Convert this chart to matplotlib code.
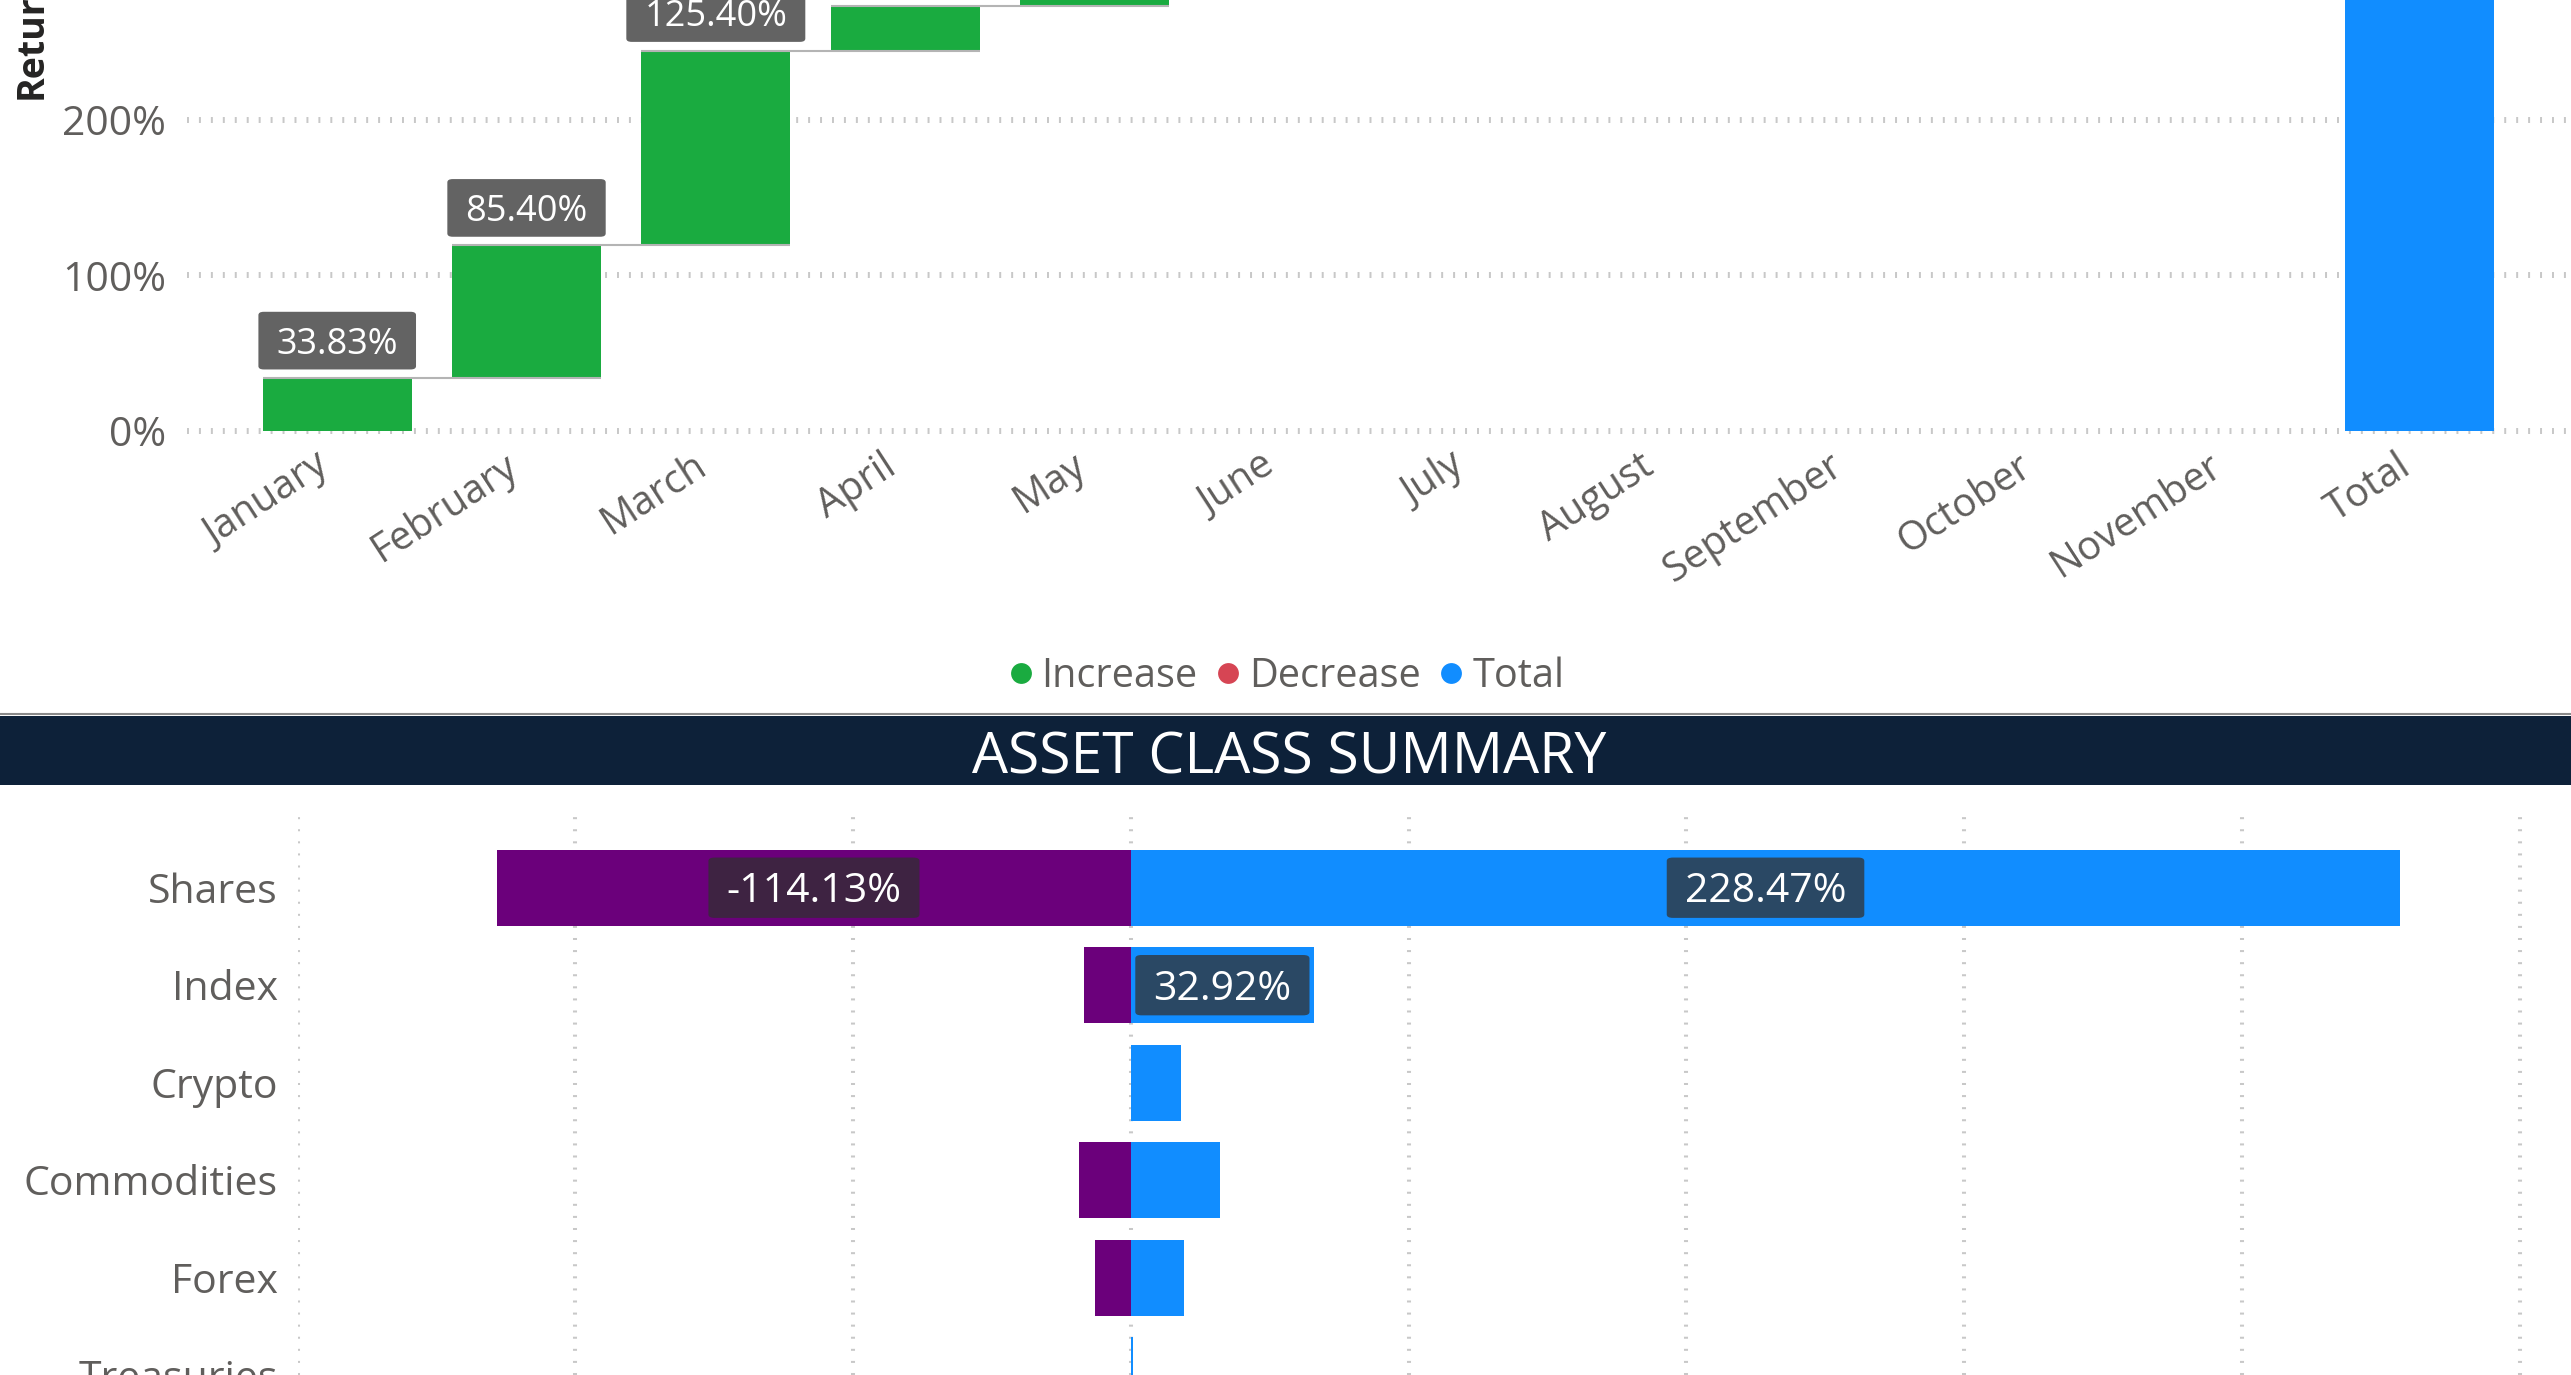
"""
Waterfall de retornos mensuales + resumen por clase de activo
(captura de un tablero: la parte superior y la inferior están recortadas)
"""
import matplotlib
matplotlib.use("Agg")
import matplotlib.pyplot as plt
from matplotlib.lines import Line2D
from matplotlib.patches import Rectangle

plt.rcParams['font.family'] = ['Open Sans', 'DejaVu Sans']

# ── Datos ──
MESES = ['January', 'February', 'March', 'April', 'May', 'June', 'July',
         'August', 'September', 'October', 'November', 'Total']
RETORNO_MES = [33.83, 85.40, 125.40, 28.90, 9.00,
               None, None, None, None, None, None]

CLASES = ['Shares', 'Index', 'Crypto', 'Commodities', 'Forex', 'Treasuries']
NEGATIVO = [-114.13, -8.5, 0.0, -9.4, -6.4, 0.0]
POSITIVO = [228.47, 32.92, 9.0, 16.0, 9.5, 0.3]

# ── Estilo ──
W, H, DPI = 2571, 1375, 100
VERDE, ROJO, AZUL, MORADO = '#1AAB40', '#D64554', '#118DFF', '#6B007B'
NAVY = '#0D2139'
GRIS_TXT = '#605E5C'
GRIS_GRID = '#C8C8C8'


def rect(l, t, r, b):
    """Rectángulo en píxeles (origen arriba-izquierda) → fracciones de figura."""
    return [l / W, 1 - b / H, (r - l) / W, (b - t) / H]


def etiqueta(ax, x, y, texto, fs, fc, pad, aspecto, dy=0.0):
    """Caja redondeada centrada en (x, y)+dy y texto centrado por altura de mayúscula."""
    caja = dict(boxstyle=f'round,pad={pad},rounding_size=0.15',
                fc=fc, ec='none', mutation_aspect=aspecto)
    ax.annotate(texto, (x, y), xytext=(0, dy), textcoords='offset points',
                ha='center', va='center', fontsize=fs, color='none',
                bbox=caja, zorder=4)
    ax.annotate(texto, (x, y), xytext=(0, dy - 0.357 * fs),
                textcoords='offset points', ha='center', va='baseline',
                fontsize=fs, color='white', zorder=5)


fig = plt.figure(figsize=(W / DPI, H / DPI), dpi=DPI)
fig.patch.set_facecolor('white')

# ════════════════ Waterfall superior ════════════════
ax = fig.add_axes(rect(186.6, 0, W, 460))
px_por_pct = 1.554
ax.set_xlim(-0.7956, 11.8)
ax.set_ylim(-(460 - 430.7) / px_por_pct, 430.7 / px_por_pct)

ancho = 0.788
acum = 0.0
tops = []
for i, v in enumerate(RETORNO_MES):
    if v is None:
        continue
    ax.bar(i, v, bottom=acum, width=ancho, color=VERDE, zorder=2)
    acum += v
    tops.append((i, acum, v))
ax.bar(len(MESES) - 1, acum, width=ancho, color=AZUL, zorder=2)

# conectores entre barras consecutivas
for (i, top, _), (j, _, _) in zip(tops[:-1], tops[1:]):
    ax.hlines(top, i - ancho / 2, j + ancho / 2, color='#B4B4B4',
              linewidth=1.5, zorder=3)

# etiquetas de datos
for i, top, v in tops + [(len(MESES) - 1, acum, acum)]:
    etiqueta(ax, i, top, f'{v:.2f}%', 26, '#636363', 0.5, 0.6, dy=27)

ax.set_yticks([0, 100, 200])
ax.set_yticklabels(['0%', '100%', '200%'])
ax.tick_params(axis='y', length=0, pad=15, labelsize=29.5, labelcolor=GRIS_TXT)
ax.set_xticks([])
ax.yaxis.grid(True, color=GRIS_GRID, linewidth=4.3,
              linestyle=(0, (0.33, 1.67)))
ax.set_axisbelow(True)
for s in ax.spines.values():
    s.set_visible(False)

# etiquetas de meses rotadas
y_lbl = (460 - 446) / 460
for i, mes in enumerate(MESES):
    ax.text(i - 0.124, y_lbl, mes, transform=ax.get_xaxis_transform(),
            rotation=33, rotation_mode='anchor', ha='right', va='top',
            fontsize=28.5, color=GRIS_TXT)

fig.text(32 / W, 1 - 99 / H, 'Return', rotation=90, ha='center', va='bottom',
         fontsize=27, fontweight='bold', color='#252423')

# leyenda
handles = [Line2D([], [], marker='o', linestyle='none', markersize=15,
                  markerfacecolor=c, markeredgecolor='none')
           for c in (VERDE, ROJO, AZUL)]
fig.legend(handles, ['Increase', 'Decrease', 'Total'], loc='center',
           bbox_to_anchor=(1287 / W, 1 - 677 / H), ncol=3, frameon=False,
           fontsize=28.5, labelcolor=GRIS_TXT, handlelength=0.55,
           handletextpad=0.25, columnspacing=0.5, borderaxespad=0,
           borderpad=0)

# ════════════════ Cabecera ════════════════
fig.add_artist(Line2D([0, 1], [1 - 714 / H] * 2, transform=fig.transFigure,
                      color='#8A8A8A', linewidth=1.5))
fig.add_artist(Rectangle((0, 1 - 785.4 / H), 1, (785.4 - 716.5) / H,
                         transform=fig.transFigure, color=NAVY, lw=0))
fig.text(1289 / W, 1 - 759 / H, 'ASSET CLASS SUMMARY', ha='center',
         va='center', fontsize=41, color='white')

# ════════════════ Barras por clase de activo ════════════════
bx = fig.add_axes(rect(297.7, 815, W, H))
px_por_pct_b = 5.555
bx.set_xlim(-150, -150 + (W - 297.7) / px_por_pct_b)
bx.set_ylim((H - 888.5) / 98.5, -(888.5 - 815) / 98.5)

filas = range(len(CLASES))
alto = 0.78
bx.barh(filas, NEGATIVO, height=alto, color=MORADO, zorder=2)
bx.barh(filas, POSITIVO, height=alto, color=AZUL, zorder=2)

for fila, neg, pos in zip(filas, NEGATIVO, POSITIVO):
    for v, fc in ((neg, '#3E2342'), (pos, '#2A4864')):
        if abs(v) < 30:
            continue
        etiqueta(bx, v / 2, fila, f'{v:.2f}%', 29.5, fc, 0.44, 0.55)

bx.set_yticks(list(filas))
bx.set_yticklabels(CLASES)
bx.tick_params(axis='y', length=0, pad=14.4, labelsize=29.5,
               labelcolor=GRIS_TXT)
bx.set_xticks(range(-150, 251, 50))
bx.tick_params(axis='x', length=0, labelbottom=False)
bx.xaxis.grid(True, color=GRIS_GRID, linewidth=2.9,
              linestyle=(0, (0.5, 2.5)))
bx.set_axisbelow(True)
for s in bx.spines.values():
    s.set_visible(False)

fig.savefig('out.png', dpi=DPI, facecolor='white')
